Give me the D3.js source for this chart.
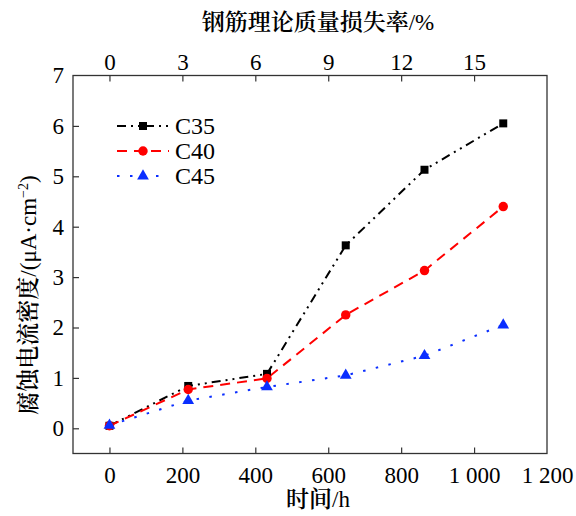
<!DOCTYPE html>
<html>
<head>
<meta charset="utf-8">
<script src="https://cdn.jsdelivr.net/npm/d3@7"></script>
<style>
  body { margin: 0; background: #fff; }
</style>
</head>
<body>
<svg id="chart" width="576" height="516"></svg>
<script>
// data
var hours = [0, 216, 432, 648, 864, 1080];
var c35 = [0.05, 0.84, 1.08, 3.63, 5.13, 6.05];
var c40 = [0.05, 0.77, 0.99, 2.25, 3.13, 4.40];
var c45 = [0.06, 0.55, 0.82, 1.05, 1.44, 2.05];
var seriesNames = ["C35", "C40", "C45"];
var xTicks = [0, 200, 400, 600, 800, 1000, 1200];
var yTicks = [0, 1, 2, 3, 4, 5, 6, 7];
var lossTicks = [0, 3, 6, 9, 12, 15];

var serif = "'Liberation Serif', 'Times New Roman', serif";
var serifCjk = "'Liberation Serif', 'Noto Serif CJK SC', serif";

var svg = d3.select("#chart");
var margin = { top: 75.5, right: 29, bottom: 62.5, left: 73 };
var W = 576, H = 516;

var x = d3.scaleLinear().domain([-100, 1200]).range([margin.left, W - margin.right]);
var xTop = d3.scaleLinear().domain([-1.5, 18]).range([margin.left, W - margin.right]);
var y = d3.scaleLinear().domain([-0.5, 7]).range([H - margin.bottom, margin.top]);

//styles for the three series
var styles = [
    { color: "#000000", dash: "9,5,2,5,2,5", shape: d3.symbolSquare, size: 64 },
    { color: "#ff0000", dash: "10,7", shape: d3.symbolCircle, size: 70 },
    { color: "#0a2eff", dash: "2.5,10.5", shape: d3.symbolTriangle, size: 60 }
];
var allSeries = [c35, c40, c45];

/* AXES */
var axisColor = "#333";
function styleAxis(g) {
    g.select(".domain").remove();
    g.selectAll(".tick line").attr("stroke", axisColor).attr("stroke-width", 1.2);
    g.selectAll(".tick text")
        .style("font-family", serif)
        .style("font-size", "23px")
        .attr("fill", "#000");
}

svg.append("g")
    .attr("transform", "translate(0," + (H - margin.bottom) + ")")
    .call(d3.axisBottom(x).tickValues(xTicks).tickSizeInner(-6).tickPadding(13)
        .tickFormat(function (d) { return d >= 1000 ? (Math.floor(d / 1000) + " " + d3.format("03d")(d % 1000)) : d; }))
    .call(styleAxis)
    .call(function (g) { g.selectAll(".tick").filter(function (d) { return d === 1200; }).select("line").remove(); });

svg.append("g")
    .attr("transform", "translate(" + margin.left + ",0)")
    .call(d3.axisLeft(y).tickValues(yTicks).tickSizeInner(-6).tickPadding(9))
    .call(styleAxis)
    .call(function (g) { g.selectAll(".tick").filter(function (d) { return d === 7; }).select("line").remove(); });

svg.append("g")
    .attr("transform", "translate(0," + margin.top + ")")
    .call(d3.axisTop(xTop).tickValues(lossTicks).tickSizeInner(-6).tickPadding(6))
    .call(styleAxis);

// frame
svg.append("rect")
    .attr("x", margin.left).attr("y", margin.top)
    .attr("width", W - margin.left - margin.right)
    .attr("height", H - margin.top - margin.bottom)
    .attr("fill", "none").attr("stroke", axisColor).attr("stroke-width", 1.3);

/* TITLES */
//cjk part bold-ish, latin part regular
function title(sel, cjk, latin) {
    sel.style("font-family", serifCjk).style("font-size", "23px");
    sel.append("tspan").style("font-weight", 600).text(cjk);
    return sel.append("tspan").style("font-weight", 400).text(latin);
}

title(svg.append("text")
    .attr("x", 318).attr("y", 30)
    .attr("text-anchor", "middle"), "钢筋理论质量损失率", "/%");

title(svg.append("text")
    .attr("x", 318).attr("y", 507)
    .attr("text-anchor", "middle"), "时间", "/h");

var yTitle = svg.append("text")
    .attr("transform", "translate(36,295) rotate(-90)")
    .attr("text-anchor", "middle");
title(yTitle, "腐蚀电流密度", "/(μA·cm");
yTitle.append("tspan").attr("dy", -8).style("font-size", "14px").text("−2");
yTitle.append("tspan").attr("dy", 8).text(")");

/* LINES */
var line = d3.line()
    .x(function (d, i) { return x(hours[i]); })
    .y(function (d) { return y(d); });

allSeries.forEach(function (vals, k) {
    var st = styles[k];
    svg.append("path")
        .datum(vals)
        .attr("d", line)
        .attr("fill", "none")
        .attr("stroke", st.color)
        .attr("stroke-width", 2)
        .attr("stroke-dasharray", st.dash);
});

allSeries.forEach(function (vals, k) {
    var st = styles[k];
    svg.selectAll(null)
        .data(vals).enter()
        .append("path")
        .attr("transform", function (d, i) { return "translate(" + x(hours[i]) + "," + y(d) + ")"; })
        .attr("d", d3.symbol().type(st.shape).size(st.size))
        .attr("fill", st.color);
});

/* LEGEND */
var legendY = [126, 151, 176];
seriesNames.forEach(function (name, k) {
    var st = styles[k];
    var g = svg.append("g").attr("transform", "translate(0," + legendY[k] + ")");
    g.append("line")
        .attr("x1", 117).attr("x2", 169).attr("y1", 0).attr("y2", 0)
        .attr("stroke", st.color).attr("stroke-width", 2)
        .attr("stroke-dasharray", st.dash);
    g.append("path")
        .attr("transform", "translate(143,0)")
        .attr("d", d3.symbol().type(st.shape).size(st.size))
        .attr("fill", st.color);
    g.append("text")
        .attr("x", 175).attr("y", 8)
        .style("font-family", serif)
        .style("font-size", "24px")
        .text(name);
});
</script>
</body>
</html>
